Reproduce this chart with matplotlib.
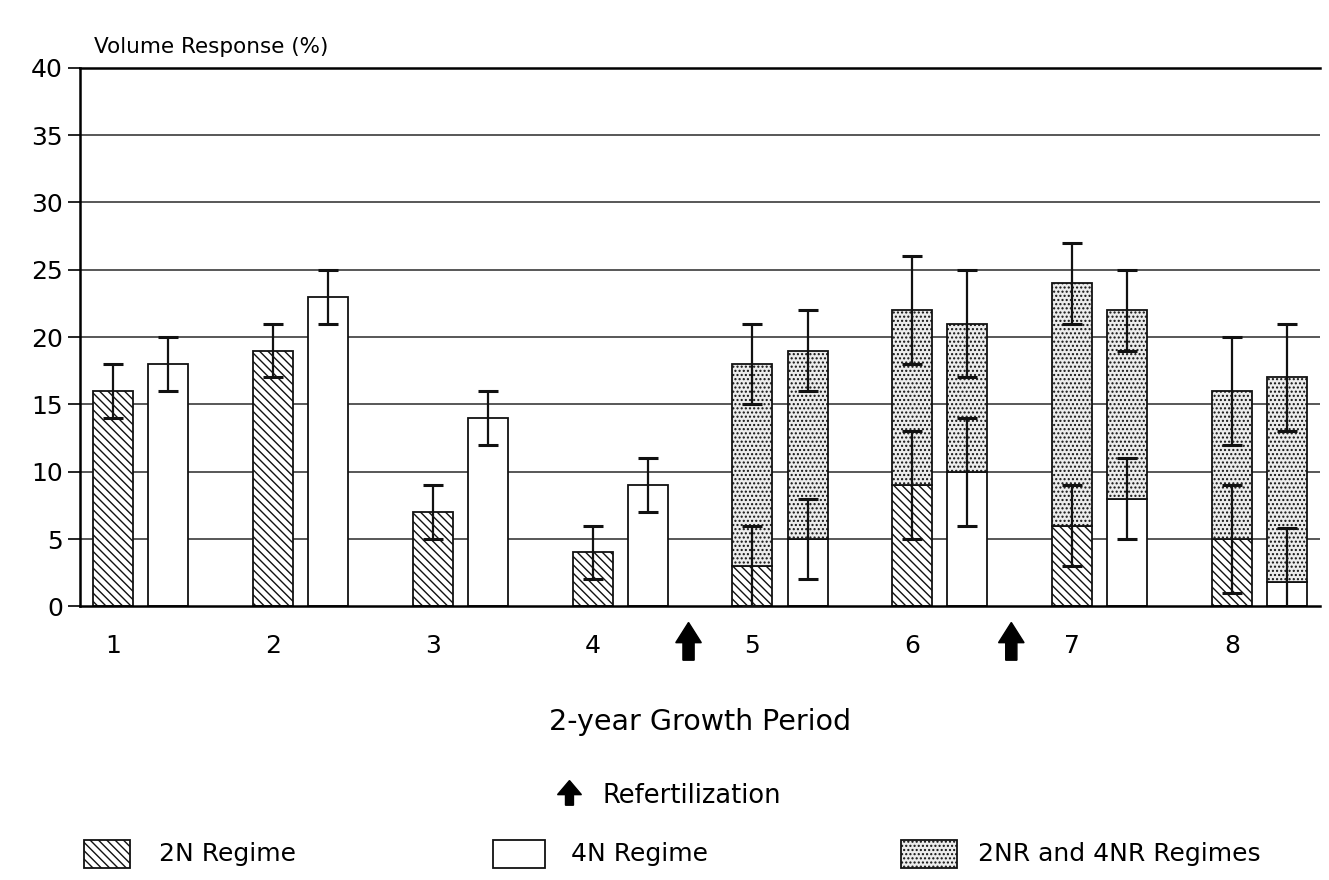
import matplotlib
matplotlib.use("Agg")
import matplotlib.pyplot as plt
from matplotlib.patches import Rectangle, FancyArrow
import numpy as np

plt.rcParams['font.family'] = ['DejaVu Sans']
plt.rcParams['hatch.linewidth'] = 1.0

# ---- data ----
periods = [1, 2, 3, 4, 5, 6, 7, 8]
n2_vals = [16, 19, 7, 4, 3, 9, 6, 5]
n2_err = [2, 2, 2, 2, 3, 4, 3, 4]
n4_vals = [18, 23, 14, 9, 5, 10, 8, 1.8]
n4_err = [2, 2, 2, 2, 3, 4, 3, 4]

# refertilized regimes (periods 5-8): total bar height and its error
nr_periods = [5, 6, 7, 8]
nr2_total = [18, 22, 24, 16]
nr2_err = [3, 4, 3, 4]
nr4_total = [19, 21, 22, 17]
nr4_err = [3, 4, 3, 4]

refert_at = [4.6, 6.62]
y_ticks = [0, 5, 10, 15, 20, 25, 30, 35, 40]

# ---- figure ----
fig = plt.figure(figsize=(13.29, 8.8), dpi=100)
ax = fig.add_axes([0.060, 0.311, 0.933, 0.612])

width = 0.25
off = 0.345
x2 = np.array(periods, dtype=float)
x4 = x2 + off

for y in y_ticks[1:]:
    ax.axhline(y, color='#2a2a2a', lw=1.1, zorder=0)

ax.bar(x2, n2_vals, width, color='white', edgecolor='#111111', hatch='\\\\\\\\',
       lw=1.3, zorder=2)
ax.bar(x4, n4_vals, width, color='white', edgecolor='#111111', lw=1.3, zorder=2)

nx = np.array(nr_periods, dtype=float)
idx = [periods.index(p) for p in nr_periods]
base2 = np.array([n2_vals[i] for i in idx])
base4 = np.array([n4_vals[i] for i in idx])
ax.bar(nx, np.array(nr2_total) - base2, width, bottom=base2, color='#ececec',
       edgecolor='#111111', hatch='....', lw=1.3, zorder=2)
ax.bar(nx + off, np.array(nr4_total) - base4, width, bottom=base4, color='#ececec',
       edgecolor='#111111', hatch='....', lw=1.3, zorder=2)

ek = dict(fmt='none', ecolor='#111111', elinewidth=1.6, capsize=7, capthick=2.2, zorder=4)
ax.errorbar(x2, n2_vals, yerr=n2_err, **ek)
ax.errorbar(x4, n4_vals, yerr=n4_err, **ek)
ax.errorbar(nx, nr2_total, yerr=nr2_err, **ek)
ax.errorbar(nx + off, nr4_total, yerr=nr4_err, **ek)

# refertilization arrows below the axis
for xa in refert_at:
    ax.add_patch(FancyArrow(xa, -4.0, 0, 2.8, width=0.07, head_width=0.16,
                            head_length=1.5, length_includes_head=True,
                            color='black', clip_on=False))

ax.set_xlim(0.79, 8.55)
ax.set_ylim(0, 40)
ax.set_yticks(y_ticks)
ax.set_yticklabels([str(v) for v in y_ticks], fontsize=18)
ax.set_xticks(periods)
ax.set_xticklabels([str(p) for p in periods], fontsize=18)
ax.tick_params(axis='y', length=9, width=1.2, direction='out', pad=3)
ax.tick_params(axis='x', length=0, pad=20)
for s in ['left', 'top', 'bottom']:
    ax.spines[s].set_linewidth(1.8)
ax.spines['right'].set_visible(False)

ax.set_xlabel('2-year Growth Period', fontsize=20.5, labelpad=36)
fig.text(0.071, 0.947, 'Volume Response (%)', fontsize=15.5, ha='left', va='center')

# ---- legend ----
fig.add_artist(FancyArrow(0.4285, 0.085, 0, 0.028, width=0.006,
               head_width=0.018, head_length=0.016, length_includes_head=True,
               color='black', transform=fig.transFigure))
fig.text(0.453, 0.095, 'Refertilization', fontsize=18.5, ha='left', va='center')

box_y = 0.014
box_h = 0.032
fig.add_artist(Rectangle((0.063, box_y), 0.035, box_h, transform=fig.transFigure,
                         facecolor='white', edgecolor='#111111', hatch='\\\\\\\\', lw=1.3))
fig.text(0.120, box_y + box_h / 2, '2N Regime', fontsize=18, ha='left', va='center')
fig.add_artist(Rectangle((0.371, box_y), 0.039, box_h, transform=fig.transFigure,
                         facecolor='white', edgecolor='#111111', lw=1.3))
fig.text(0.430, box_y + box_h / 2, '4N Regime', fontsize=18, ha='left', va='center')
fig.add_artist(Rectangle((0.678, box_y), 0.042, box_h, transform=fig.transFigure,
                         facecolor='#ececec', edgecolor='#111111', hatch='....', lw=1.3))
fig.text(0.736, box_y + box_h / 2, '2NR and 4NR Regimes', fontsize=18, ha='left', va='center')

fig.savefig('out.png', dpi=100)
